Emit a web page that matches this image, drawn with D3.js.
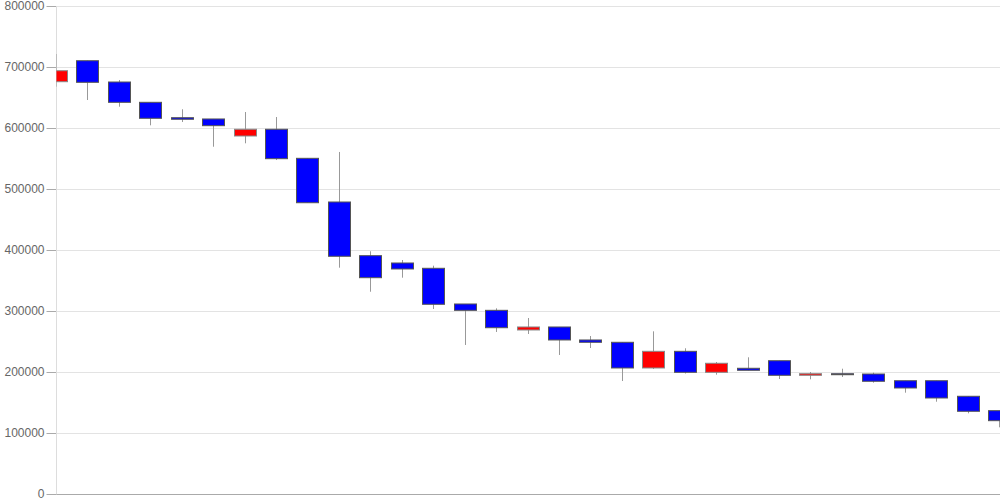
<!DOCTYPE html>
<html>
<head>
<meta charset="utf-8">
<script src="https://cdn.jsdelivr.net/npm/d3@7"></script>
<style>
  body { margin: 0; background: #fff; }
  svg { display: block; }
  .tick text { font-family: "Liberation Sans", Arial, sans-serif; font-size: 12px; fill: #666; }
</style>
</head>
<body>
<div id="chart"></div>
<script>
// candle data
var opens  = [675900, 710300, 675400, 642100, 616900, 614800, 586900, 597900, 550300, 478700,
              390700, 378700, 370000, 311500, 301100, 268900, 273800, 252500, 248700, 206600,
              233900, 199500, 206100, 218500, 194600, 197200, 196700, 185700, 185700, 160200, 136600];
var closes = [693900, 674900, 642100, 615900, 614300, 603800, 597900, 549700, 477500, 389700,
              354600, 368900, 311000, 301100, 272600, 273800, 252500, 248700, 206600, 233900,
              199500, 214300, 202800, 194600, 197200, 195600, 184800, 173800, 157400, 135600, 120200];
var highs  = [721300, 710300, 678700, 642100, 630700, 614800, 626200, 618000, 550300, 560700,
              397900, 383600, 374300, 311500, 304400, 288500, 273800, 259000, 248700, 266700,
              238900, 216400, 224100, 218500, 200000, 205400, 198900, 185700, 185700, 160200, 136600];
var lows   = [667700, 645900, 634900, 604400, 609800, 569300, 574900, 547500, 477500, 371000,
              331600, 354600, 303300, 244300, 265600, 262300, 227900, 239300, 185200, 204900,
              197500, 195600, 202800, 188500, 188000, 191800, 182500, 166100, 151300, 132300, 109300];
var yTicks = [0, 100000, 200000, 300000, 400000, 500000, 600000, 700000, 800000];

var width = 1000, height = 500;
var plotLeft = 56.5, plotRight = 1000, plotTop = 6, plotBottom = 494;

var data = opens.map(function(o, i) {
  return {i: i, open: o, close: closes[i], high: highs[i], low: lows[i]};
});

var svg = d3.select("#chart").append("svg")
  .attr("width", width)
  .attr("height", height);

var x = d3.scalePoint().domain(d3.range(data.length)).range([56, 999]);
var y = d3.scaleLinear().domain([0, 800000]).range([plotBottom, plotTop]);

// gridlines
svg.append("g")
  .selectAll("line")
  .data(yTicks)
  .enter().append("line")
  .attr("x1", plotLeft).attr("x2", plotRight)
  .attr("y1", function(d) { return Math.round(y(d)) + 0.5; })
  .attr("y2", function(d) { return Math.round(y(d)) + 0.5; })
  .attr("stroke", "#e3e3e3");

// y axis labels + small ticks
var yAxis = d3.axisLeft(y).tickValues(yTicks).tickFormat(d3.format("d")).tickSize(10).tickPadding(2);
svg.append("g")
  .attr("transform", "translate(" + plotLeft + ",0)")
  .call(yAxis)
  .call(function(g) { g.select(".domain").remove(); })
  .call(function(g) { g.selectAll(".tick line").attr("stroke", "#aaa"); });

// vertical axis line
svg.append("line")
  .attr("x1", plotLeft).attr("x2", plotLeft)
  .attr("y1", plotTop).attr("y2", plotBottom)
  .attr("stroke", "#ddd");

// baseline
svg.append("line")
  .attr("x1", plotLeft).attr("x2", plotRight)
  .attr("y1", plotBottom + 0.5).attr("y2", plotBottom + 0.5)
  .attr("stroke", "#aaa");

svg.append("clipPath").attr("id", "plot")
  .append("rect")
  .attr("x", plotLeft).attr("y", 0)
  .attr("width", plotRight - plotLeft).attr("height", plotBottom);

var candles = svg.append("g").attr("clip-path", "url(#plot)");
var bw = 22;

// wicks
candles.selectAll(".wick")
  .data(data)
  .enter().append("line")
  .attr("class", "wick")
  .attr("x1", function(d) { return Math.round(x(d.i)) + 0.5; })
  .attr("x2", function(d) { return Math.round(x(d.i)) + 0.5; })
  .attr("y1", function(d) { return y(d.high); })
  .attr("y2", function(d) { return y(d.low); })
  .attr("stroke", "#999");

// bodies
candles.selectAll(".body")
  .data(data)
  .enter().append("rect")
  .attr("class", "body")
  .attr("x", function(d) { return Math.round(x(d.i) - bw / 2) + 0.5; })
  .attr("width", bw)
  .attr("y", function(d) { return y(Math.max(d.open, d.close)); })
  .attr("height", function(d) { return Math.max(1, Math.abs(y(d.open) - y(d.close))); })
  .attr("fill", function(d) { return d.close > d.open ? "#ff0000" : "#0000ff"; })
  .attr("stroke", function(d) { return d.close > d.open ? "#888" : "#555"; })
  .attr("stroke-width", 1);
</script>
</body>
</html>
